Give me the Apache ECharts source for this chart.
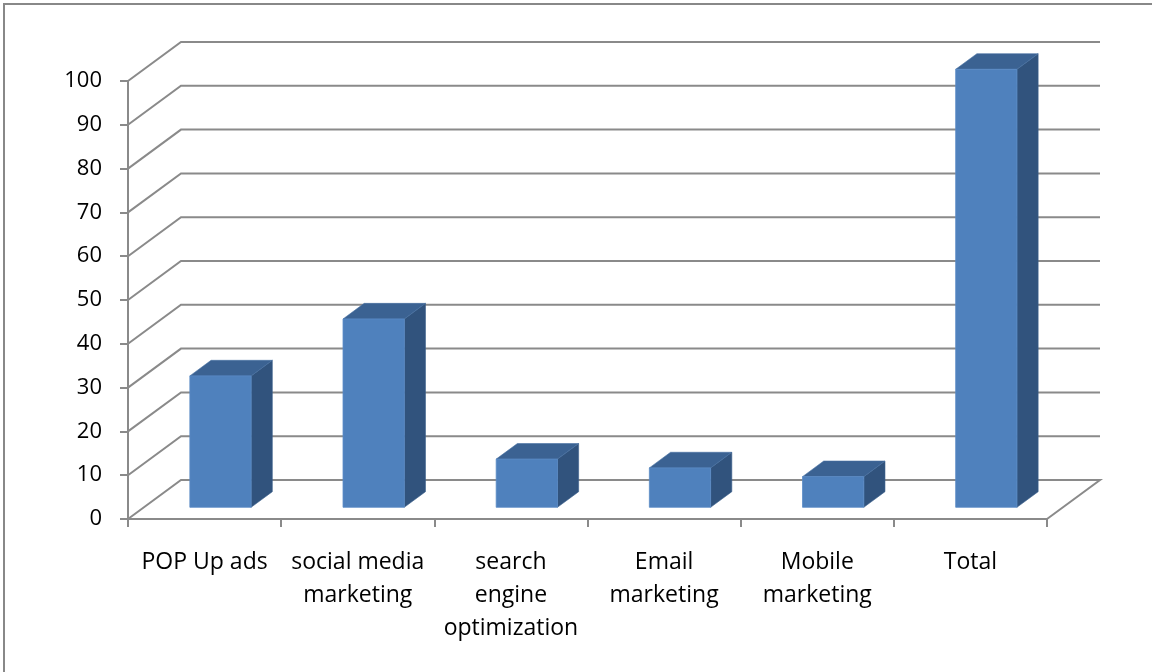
<!DOCTYPE html>
<html>
<head>
<meta charset="utf-8">
<style>
  html, body { margin: 0; padding: 0; background: #fff; }
  #chart { width: 1152px; height: 672px; }
</style>
<script src="https://cdn.jsdelivr.net/npm/echarts@6/dist/echarts.min.js"></script>
</head>
<body>
<div id="chart"></div>
<script>
// Marketing channels and their shares
const categories = [
  'POP Up ads',
  'social media\nmarketing',
  'search\nengine\noptimization',
  'Email\nmarketing',
  'Mobile\nmarketing',
  'Total'
];
const values = [30, 43, 11, 9, 7, 100];
const yTicks = [0, 10, 20, 30, 40, 50, 60, 70, 80, 90, 100];

// Pseudo-3D depth vector (back wall offset) and bar placement within the depth
const DX = 53, DY = -39;
const BAR_FRONT = 0.3, BAR_DEPTH = 0.4, BAR_WIDTH_RATIO = 0.4;
const GRID_COLOR = '#8a8a8a';
const FONT = '"Open Sans", sans-serif';

const chart = echarts.init(document.getElementById('chart'), null, { renderer: 'canvas' });

function renderWall(params, api) {
  const cs = params.coordSys;
  const t = api.value(1);
  const y = api.coord([0, t])[1];
  const left = cs.x, right = cs.x + cs.width;
  const pts = [[left, y], [left + DX, y + DY], [right + DX, y + DY]];
  if (t === yTicks[0]) pts.push([right, y]);
  return {
    type: 'polyline',
    shape: { points: pts },
    style: { stroke: GRID_COLOR, lineWidth: 2, fill: null },
    silent: true
  };
}

function renderBar(params, api) {
  const idx = api.value(0);
  const v = api.value(1);
  const p0 = api.coord([idx, 0]);
  const p1 = api.coord([idx, v]);
  const band = api.size([1, 0])[0];
  const w = band * BAR_WIDTH_RATIO;
  const fx = p0[0] + BAR_FRONT * DX - w / 2;
  const fy0 = p0[1] + BAR_FRONT * DY;
  const fy1 = p1[1] + BAR_FRONT * DY;
  const ddx = BAR_DEPTH * DX, ddy = BAR_DEPTH * DY;
  return {
    type: 'group',
    children: [
      {
        type: 'polygon',
        shape: { points: [[fx + w, fy0], [fx + w, fy1], [fx + w + ddx, fy1 + ddy], [fx + w + ddx, fy0 + ddy]] },
        style: { fill: '#31537d', stroke: '#3a5f8c', lineWidth: 0.6 }
      },
      {
        type: 'polygon',
        shape: { points: [[fx, fy1], [fx + w, fy1], [fx + w + ddx, fy1 + ddy], [fx + ddx, fy1 + ddy]] },
        style: { fill: '#3b6292', stroke: '#4670a2', lineWidth: 0.6 }
      },
      {
        type: 'rect',
        shape: { x: fx, y: fy1, width: w, height: fy0 - fy1 },
        style: { fill: '#4f81bd', stroke: '#5a8cc6', lineWidth: 0.8 }
      }
    ]
  };
}

chart.setOption({
  animation: false,
  backgroundColor: '#ffffff',
  graphic: [{
    type: 'rect',
    shape: { x: 4, y: 4, width: 1300, height: 800 },
    style: { fill: null, stroke: '#888888', lineWidth: 2 },
    silent: true,
    z: -10
  }],
  grid: { left: 128, right: 105, top: 81, bottom: 153 },
  xAxis: {
    type: 'category',
    data: categories,
    boundaryGap: true,
    axisLine: { show: true, lineStyle: { color: GRID_COLOR, width: 2 } },
    axisTick: { show: true, length: 8, lineStyle: { color: GRID_COLOR, width: 2 } },
    axisLabel: {
      interval: 0,
      margin: 27,
      color: '#000',
      fontFamily: FONT,
      fontSize: 23,
      lineHeight: 33,
      align: 'center'
    },
    splitLine: { show: false }
  },
  yAxis: {
    type: 'value',
    min: 0,
    max: 100,
    interval: 10,
    axisLine: { show: true, lineStyle: { color: GRID_COLOR, width: 2 } },
    axisTick: { show: true, length: 8, lineStyle: { color: GRID_COLOR, width: 2 } },
    axisLabel: {
      margin: 26,
      color: '#000',
      fontFamily: FONT,
      fontSize: 22
    },
    splitLine: { show: false }
  },
  series: [
    {
      type: 'custom',
      name: 'wall',
      renderItem: renderWall,
      data: yTicks.map(t => [0, t]),
      encode: { x: 0, y: 1 },
      z: 1,
      silent: true
    },
    {
      type: 'custom',
      name: 'bars',
      renderItem: renderBar,
      data: values.map((v, i) => [i, v]),
      encode: { x: 0, y: 1 },
      z: 5
    }
  ]
});
</script>
</body>
</html>
